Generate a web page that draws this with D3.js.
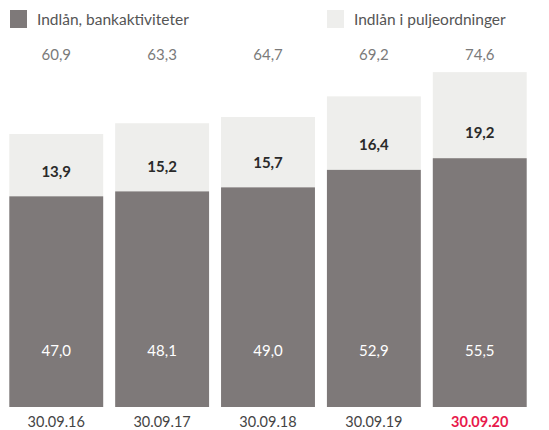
<!DOCTYPE html>
<html><head><meta charset="utf-8">
<script src="https://cdn.jsdelivr.net/npm/d3@7"></script>
<style>body{margin:0;background:#fff}svg{display:block}text{font-family:Lato,"Open Sans",sans-serif}</style>
</head><body>
<svg id="c" width="549" height="430"></svg>
<script>
const categories = ["30.09.16","30.09.17","30.09.18","30.09.19","30.09.20"];
const bankValues = [47.0, 48.1, 49.0, 52.9, 55.5];
const poolValues = [13.9, 15.2, 15.7, 16.4, 19.2];
const totalValues = [60.9, 63.3, 64.7, 69.2, 74.6];
const seriesNames = ["Indlån, bankaktiviteter", "Indlån i puljeordninger"];

const fmt = v => v.toFixed(1).replace(".", ",");
const darkC = "#7e7979", lightC = "#eeeeec";
const svg = d3.select("#c");
const x = d3.scaleBand().domain(categories).range([4, 532]).paddingInner(0.113).paddingOuter(0.05);
const y = d3.scaleLinear().domain([0, 60.9]).range([407, 134]);

const g = svg.append("g");
categories.forEach((c, i) => {
  const b = bankValues[i], p = poolValues[i];
  g.append("rect").attr("x", x(c)).attr("width", x.bandwidth())
    .attr("y", y(b + p)).attr("height", y(b) - y(b + p)).attr("fill", lightC);
  g.append("rect").attr("x", x(c)).attr("width", x.bandwidth())
    .attr("y", y(b)).attr("height", y(0) - y(b)).attr("fill", darkC);
  const cx = x(c) + x.bandwidth() / 2;
  g.append("text").attr("x", cx).attr("y", 351).attr("dy", "0.35em").attr("text-anchor", "middle")
    .attr("fill", "#fff").attr("font-size", 15).text(fmt(b));
  g.append("text").attr("x", cx).attr("y", y(b) - 25).attr("dy", "0.35em").attr("text-anchor", "middle")
    .attr("fill", "#2a2a2a").attr("font-size", 15).attr("font-weight", 700).text(fmt(p));
  g.append("text").attr("x", cx).attr("y", 55).attr("dy", "0.35em").attr("text-anchor", "middle")
    .attr("fill", "#7a7a7a").attr("font-size", 15).text(fmt(totalValues[i]));
  const last = i === categories.length - 1;
  g.append("text").attr("x", cx).attr("y", 422).attr("dy", "0.35em").attr("text-anchor", "middle")
    .attr("fill", last ? "#e8194b" : "#444").attr("font-size", 14.5)
    .attr("font-weight", last ? 700 : 400).text(c);
});

const leg = [{x: 10, c: darkC}, {x: 327, c: lightC}];
leg.forEach((l, i) => {
  svg.append("rect").attr("x", l.x).attr("y", 10).attr("width", 17).attr("height", 18).attr("fill", l.c);
  svg.append("text").attr("x", l.x + 27).attr("y", 20).attr("dy", "0.35em")
    .attr("fill", "#555").attr("font-size", 15.5).text(seriesNames[i]);
});
</script>
</body></html>
